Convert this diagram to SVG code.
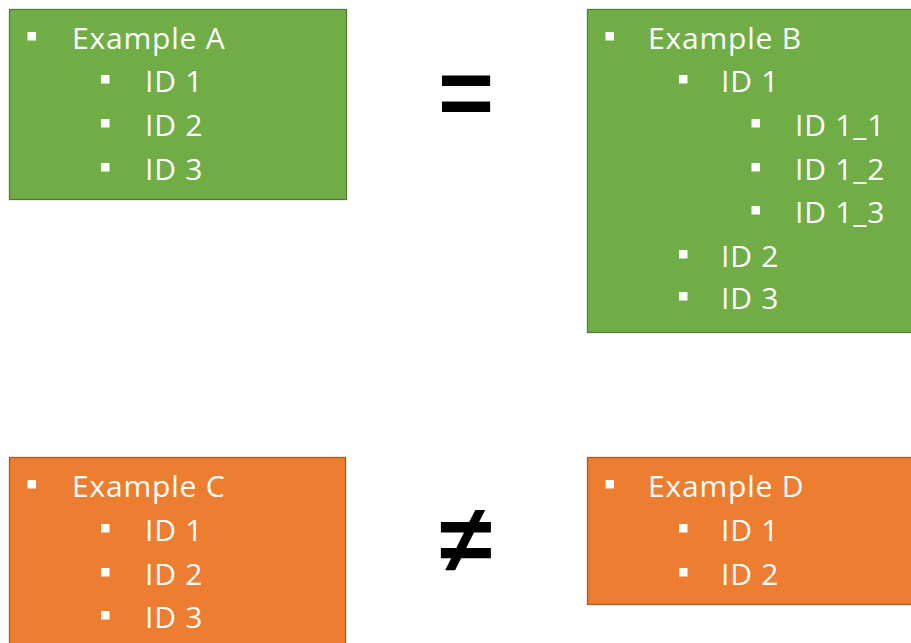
<svg xmlns="http://www.w3.org/2000/svg" width="911" height="643" viewBox="0 0 911 643">
<style>
.g{fill:#70AD47;stroke:#507E32;stroke-width:1.3}
.o{fill:#ED7D31;stroke:#AE5A21;stroke-width:1.3}
.t{font-family:"Open Sans","Liberation Sans",sans-serif;font-size:30px;letter-spacing:0.8px;fill:#FFFFFF}
.b{fill:#FFFFFF}
.sym{font-family:"Liberation Sans",Arial,sans-serif;font-weight:bold;fill:#000000}
</style>
<rect width="911" height="643" fill="#FFFFFF"/>
<g id="exampleA">
<rect class="g" x="9.5" y="9.5" width="337" height="190"/>
<rect class="b" x="27.5" y="32" width="8.5" height="8.5"/>
<text class="t" x="72" y="49">Example A</text>
<rect class="b" x="101" y="75" width="8.5" height="8.5"/>
<text class="t" x="145" y="92">ID 1</text>
<rect class="b" x="101" y="119" width="8.5" height="8.5"/>
<text class="t" x="145" y="136">ID 2</text>
<rect class="b" x="101" y="163" width="8.5" height="8.5"/>
<text class="t" x="145" y="180">ID 3</text>
</g>
<g id="exampleB">
<rect class="g" x="587.5" y="9.5" width="330" height="323"/>
<rect class="b" x="605.5" y="32" width="8.5" height="8.5"/>
<text class="t" x="648" y="49">Example B</text>
<rect class="b" x="679" y="75" width="8.5" height="8.5"/>
<text class="t" x="721" y="92">ID 1</text>
<rect class="b" x="751.5" y="119" width="8.5" height="8.5"/>
<text class="t" x="795" y="136">ID 1_1</text>
<rect class="b" x="751.5" y="163" width="8.5" height="8.5"/>
<text class="t" x="795" y="180">ID 1_2</text>
<rect class="b" x="751.5" y="206" width="8.5" height="8.5"/>
<text class="t" x="795" y="223">ID 1_3</text>
<rect class="b" x="679" y="250" width="8.5" height="8.5"/>
<text class="t" x="721" y="267">ID 2</text>
<rect class="b" x="679" y="292" width="8.5" height="8.5"/>
<text class="t" x="721" y="309">ID 3</text>
</g>
<g id="exampleC">
<rect class="o" x="9.5" y="457.5" width="336" height="200"/>
<rect class="b" x="27.5" y="480" width="8.5" height="8.5"/>
<text class="t" x="72" y="497">Example C</text>
<rect class="b" x="101" y="524" width="8.5" height="8.5"/>
<text class="t" x="145" y="541">ID 1</text>
<rect class="b" x="101" y="568" width="8.5" height="8.5"/>
<text class="t" x="145" y="585">ID 2</text>
<rect class="b" x="101" y="611" width="8.5" height="8.5"/>
<text class="t" x="145" y="628">ID 3</text>
</g>
<g id="exampleD">
<rect class="o" x="587.5" y="457.5" width="330" height="147"/>
<rect class="b" x="605.5" y="480" width="8.5" height="8.5"/>
<text class="t" x="648" y="497">Example D</text>
<rect class="b" x="679" y="524" width="8.5" height="8.5"/>
<text class="t" x="721" y="541">ID 1</text>
<rect class="b" x="679" y="568" width="8.5" height="8.5"/>
<text class="t" x="721" y="585">ID 2</text>
</g>
<g id="connectors">
<text id="equals" class="sym" x="466" y="126" font-size="96" text-anchor="middle">=</text>
<text id="notequals" class="sym" x="466" y="572" font-size="96" text-anchor="middle">≠</text>
</g>
</svg>
